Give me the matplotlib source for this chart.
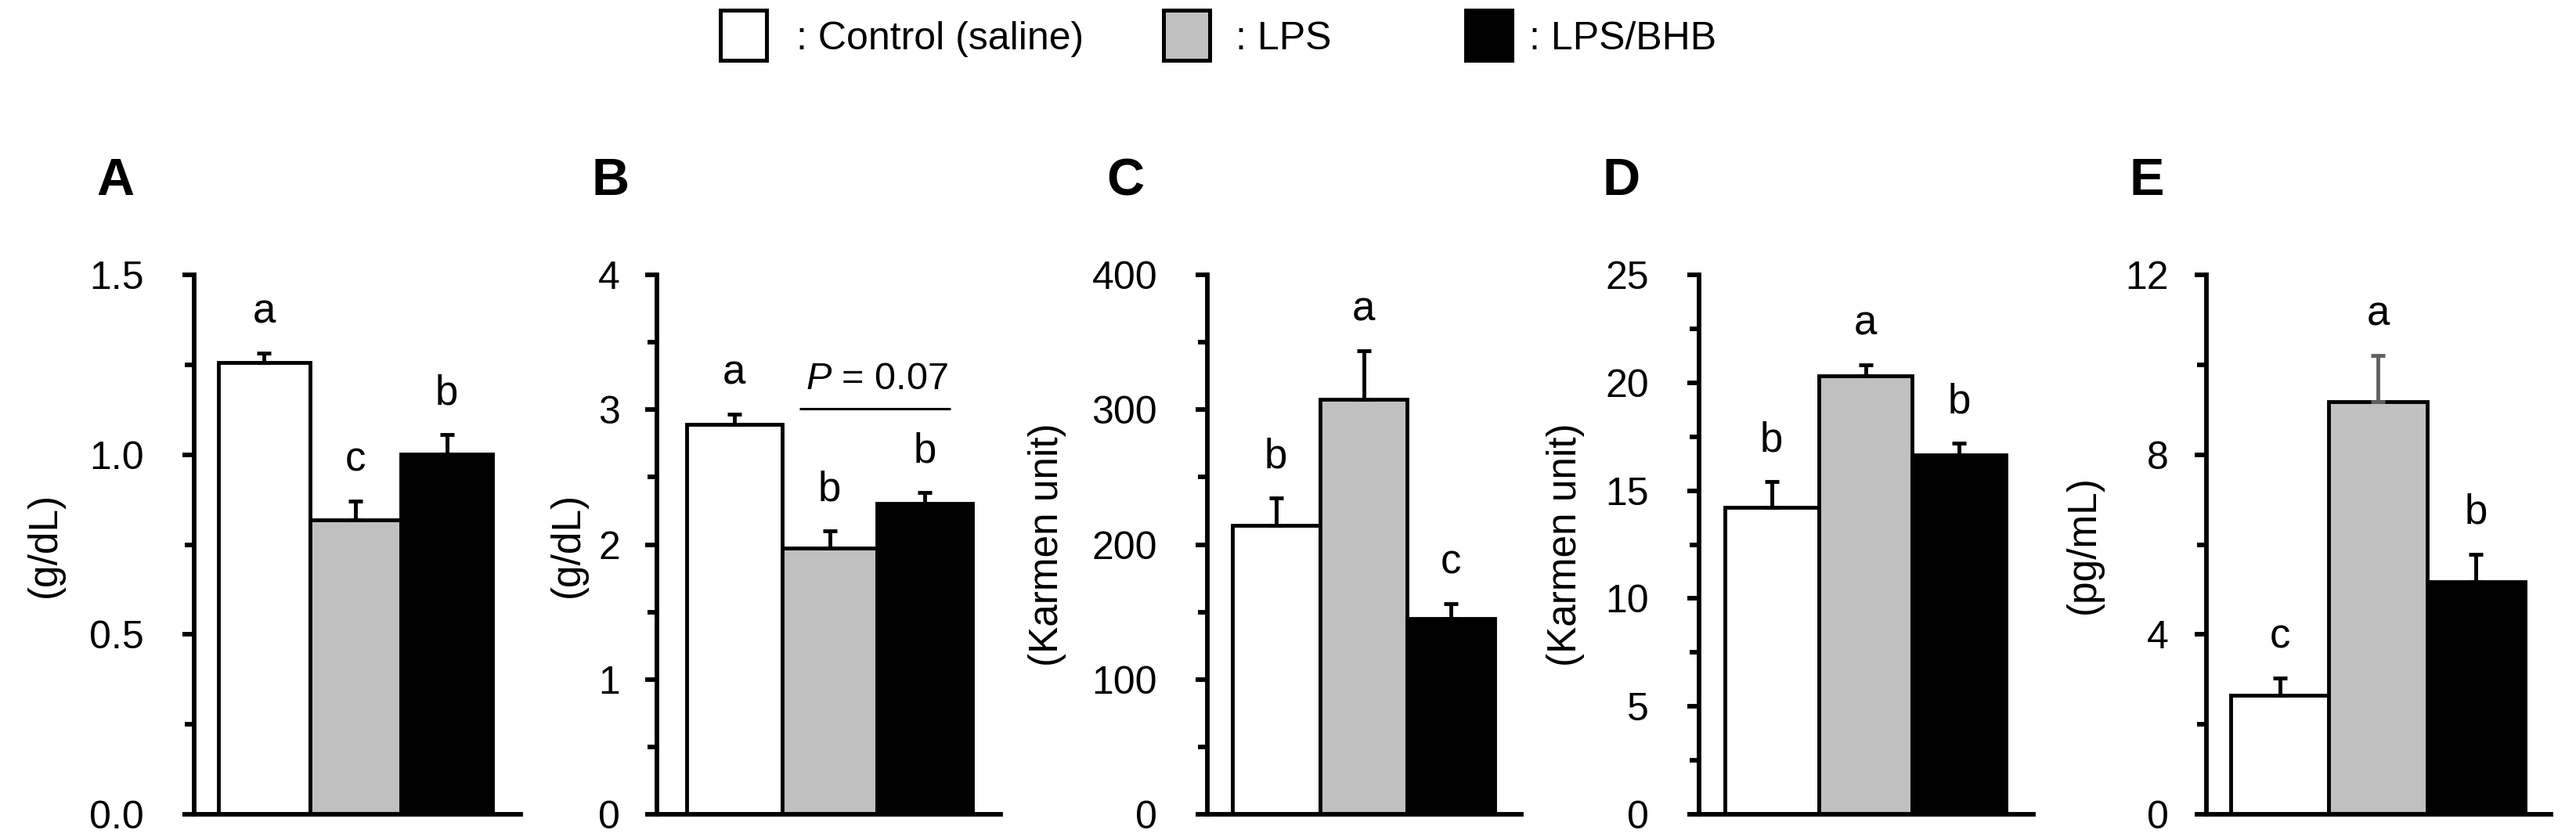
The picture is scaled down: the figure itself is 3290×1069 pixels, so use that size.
import numpy as np
import matplotlib
matplotlib.use('Agg')
import matplotlib.pyplot as plt
from matplotlib.patches import Rectangle
from matplotlib.ticker import MultipleLocator, FormatStrFormatter

plt.rcParams['font.family'] = ['Liberation Sans', 'Noto Sans CJK JP', 'DejaVu Sans']
plt.rcParams['mathtext.fontset'] = 'custom'
plt.rcParams['mathtext.it'] = 'Liberation Sans:italic'
plt.rcParams['mathtext.rm'] = 'Liberation Sans'

# ---------------- data ----------------
groups = ['Control (saline)', 'LPS', 'LPS/BHB']
panels = ['A', 'B', 'C', 'D', 'E']

A_means = [1.257, 0.819, 1.002]
A_sem = [0.026, 0.051, 0.054]
A_letters = ['a', 'c', 'b']

B_means = [2.89, 1.975, 2.305]
B_sem = [0.077, 0.128, 0.080]
B_letters = ['a', 'b', 'b']

C_means = [214.0, 307.5, 145.0]
C_sem = [20.5, 36.0, 11.0]
C_letters = ['b', 'a', 'c']

D_means = [14.23, 20.33, 16.65]
D_sem = [1.18, 0.49, 0.54]
D_letters = ['b', 'a', 'b']

E_means = [2.64, 9.17, 5.17]
E_sem = [0.39, 1.03, 0.62]
E_letters = ['c', 'a', 'b']

ylabels = ['(g/dL)', '(g/dL)', '(Karmen unit)', '(Karmen unit)', '(pg/mL)']
ymax = [1.5, 4, 400, 25, 12]
major_step = [0.5, 1, 100, 5, 4]
minor_step = [0.25, 0.5, 50, 2.5, 2]
tick_fmt = ['%.1f', '%d', '%d', '%d', '%d']

p_text = 'P = 0.07'

means_all = [A_means, B_means, C_means, D_means, E_means]
sem_all = [A_sem, B_sem, C_sem, D_sem, E_sem]
letters_all = [A_letters, B_letters, C_letters, D_letters, E_letters]

# ---------------- style / layout ----------------
bar_colors = ['white', '#C0C0C0', 'black']
err_colors = [['black'] * 3] * 4 + [['black', '#606060', 'black']]

W, H = 3290, 1069
fig = plt.figure(figsize=(W / 100, H / 100), dpi=100)


def fx(x):
    return x / W


def fy(y):
    return 1 - y / H


spine_x = [248, 839, 1542, 2170, 2818]
axis_end = [665, 1278, 1943, 2597, 3258]
white_left = [279, 877, 1574, 2203, 2849]
black_right = [629, 1242, 1909, 2562, 3225]
top_y, bot_y = 351, 1040
label_pad = [35, 23, 35, 35, 24]
ylab_x = [57, 725, 1337, 2000, 2661]
panel_x = [147, 780, 1437, 2071, 2742]
panel_base_y = 249

LW = 4.2
for i in range(5):
    ax = fig.add_axes([fx(spine_x[i]), fy(bot_y),
                       fx(axis_end[i] - spine_x[i]), (bot_y - top_y) / H])
    unit = (black_right[i] - white_left[i]) / 3
    ax.set_xlim(-0.5 - (white_left[i] - spine_x[i]) / unit,
                2.5 + (axis_end[i] - black_right[i]) / unit)
    ax.set_ylim(0, ymax[i])
    x = np.arange(3)
    m = np.array(means_all[i])
    s = np.array(sem_all[i])
    ax.bar(x, m, width=1.0, color=bar_colors, edgecolor='black',
           linewidth=3.5, zorder=2)
    for j in range(3):
        ax.errorbar(x[j], m[j], yerr=[[0], [s[j]]], fmt='none',
                    ecolor=err_colors[i][j], elinewidth=3.5, capsize=6.8,
                    capthick=3.5, zorder=3)
        ax.text(x[j], m[j] + s[j] + 0.056 * ymax[i], letters_all[i][j],
                ha='center', va='baseline', fontsize=38)
    for sp in ['top', 'right']:
        ax.spines[sp].set_visible(False)
    for sp in ['left', 'bottom']:
        ax.spines[sp].set_linewidth(LW)
    ax.set_xticks([])
    ax.yaxis.set_major_locator(MultipleLocator(major_step[i]))
    ax.yaxis.set_minor_locator(MultipleLocator(minor_step[i]))
    ax.yaxis.set_major_formatter(FormatStrFormatter(tick_fmt[i]))
    ax.tick_params(axis='y', which='major', direction='out', length=11,
                   width=LW, labelsize=36, pad=label_pad[i])
    ax.tick_params(axis='y', which='minor', direction='out', length=9,
                   width=LW)
    ax.patch.set_alpha(0)

    if i == 1:
        ax.plot([0.68, 2.27], [3.01, 3.01], color='black', lw=2.2,
                solid_capstyle='butt', zorder=3)
        ax.text(1.5, 3.15, r'$P$' + p_text[1:], ha='center', va='baseline',
                fontsize=35)

    fig.text(fx(ylab_x[i]), fy((top_y + bot_y) / 2), ylabels[i],
             rotation=90, ha='center', va='center', fontsize=37)
    fig.text(fx(panel_x[i]), fy(panel_base_y), panels[i], fontsize=48,
             fontweight='bold', ha='center', va='baseline')

# ---------------- legend ----------------
box_left = [918, 1484, 1870]
text_left = [1017, 1578, 1953]
box_w, box_top, box_bot = 63, 13, 77
for k in range(3):
    fig.add_artist(Rectangle((fx(box_left[k] + 2), fy(box_bot)),
                             fx(box_w - 4), (box_bot - box_top) / H,
                             facecolor=bar_colors[k], edgecolor='black',
                             linewidth=3.6, transform=fig.transFigure))
    fig.text(fx(text_left[k]), fy(63), ': ' + groups[k], fontsize=36,
             ha='left', va='baseline')

fig.savefig('out.png', dpi=100)
